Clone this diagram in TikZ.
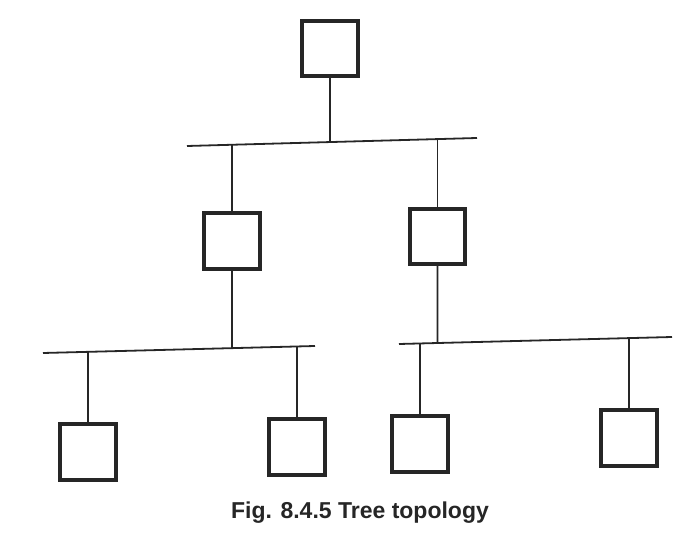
\documentclass[tikz,border=0pt]{standalone}
\usepackage{fontspec}
\usepackage{tikz}
\usetikzlibrary{calc}
\setsansfont{Liberation Sans}

\begin{document}
\begin{tikzpicture}[x=1pt, y=-1pt,
    box/.style={rectangle, draw=black!85, line width=4pt, minimum width=55.5pt, minimum height=55.5pt, inner sep=0pt},
    bus/.style={line width=1.8pt, draw=black!85},
    drop/.style={line width=1.6pt, draw=black!85},
    caption/.style={font=\sffamily\bfseries\fontsize{23}{27}\selectfont, text=black!85}
]
    \useasboundingbox (0,0) rectangle (685,537);

    % Root
    \node[box] (root) at (330,48.5) {};

    % Second level
    \node[box] (midL) at (232,241) {};
    \node[box] (midR) at (437.5,236.5) {};

    % Leaves
    \node[box] (leafA) at (88,452) {};
    \node[box] (leafB) at (297,447) {};
    \node[box] (leafC) at (420,444) {};
    \node[box] (leafD) at (629,438) {};

    % Buses
    \coordinate (topA) at (187,146);
    \coordinate (topB) at (477,138);
    \coordinate (leftA) at (43,353);
    \coordinate (leftB) at (315,346);
    \coordinate (rightA) at (399,344);
    \coordinate (rightB) at (672,337);
    \draw[bus] (topA) -- (topB);
    \draw[bus] (leftA) -- (leftB);
    \draw[bus] (rightA) -- (rightB);

    % Drops
    \foreach \n/\a/\b in {root/topA/topB, midL/leftA/leftB, midR/rightA/rightB}
        \draw[drop] (\n.south) -- (intersection cs: first line={(\n.south)--($(\n.south)+(0,10)$)}, second line={(\a)--(\b)});
    \foreach \n/\a/\b in {midL/topA/topB, midR/topA/topB, leafA/leftA/leftB, leafB/leftA/leftB, leafC/rightA/rightB, leafD/rightA/rightB}
        \draw[drop] (\n.north) -- (intersection cs: first line={(\n.north)--($(\n.north)+(0,-10)$)}, second line={(\a)--(\b)});

    % Caption
    \node[caption] (cap) at (360,513) {Fig. 8.4.5 Tree topology};

\end{tikzpicture}
\end{document}
